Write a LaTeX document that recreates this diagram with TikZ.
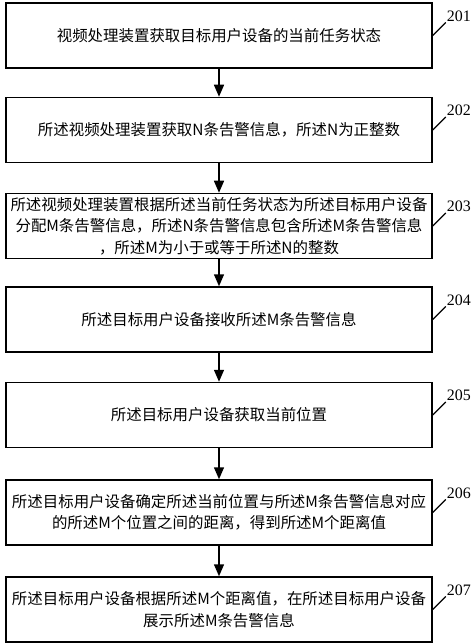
\documentclass[tikz,border=0pt]{standalone}
\usepackage{fontspec}
\setmainfont{Liberation Serif}
\newfontfamily\cjk{Noto Sans CJK SC}
\usepackage{tikz}
\usetikzlibrary{positioning,arrows.meta}
\tikzstyle{box} = [draw,line width=1.5bp,minimum width=426bp,minimum height=65bp,text width=420bp,inner sep=3bp,align=center,font=\cjk\fontsize{15.5}{21.5}\selectfont]
\tikzstyle{arrow} = [line width=1.5bp,-{Triangle[length=12bp,width=10bp]}]
\tikzstyle{tag} = [inner sep=1bp,font=\fontsize{16}{16}\selectfont]

\begin{document}
\begin{tikzpicture}[x=1bp,y=-1bp]
            \useasboundingbox (0,0) rectangle (474,644);
            % steps
            \node[box] (b201) at (219,35.5) {视频处理装置获取目标用户设备的当前任务状态};
            \node[box] (b202) at (219,130) {所述视频处理装置获取N条告警信息，所述N为正整数};
            \node[box] (b203) at (219,226) {所述视频处理装置根据所述当前任务状态为所述目标用户设备\\分配M条告警信息，所述N条告警信息包含所述M条告警信息\\，所述M为小于或等于所述N的整数};
            \node[box] (b204) at (219,319.5) {所述目标用户设备接收所述M条告警信息};
            \node[box] (b205) at (219,415) {所述目标用户设备获取当前位置};
            \node[box] (b206) at (219,512.5) {所述目标用户设备确定所述当前位置与所述M条告警信息对应\\的所述M个位置之间的距离，得到所述M个距离值};
            \node[box] (b207) at (219,609.5) {所述目标用户设备根据所述M个距离值，在所述目标用户设备\\展示所述M条告警信息};
            % arrows
            \foreach \a/\b in {201/202,202/203,203/204,204/205,205/206,206/207}
                \draw[arrow] (b\a.south) -- (b\b.north);
            % step numbers
            \foreach \n in {201,...,207} {
                \node[tag, above right=13bp and 13bp of b\n.east] (l\n) {\n};
                \draw[line width=1.2bp] (b\n.east) -- (l\n.south west);
            }
\end{tikzpicture}
\end{document}
